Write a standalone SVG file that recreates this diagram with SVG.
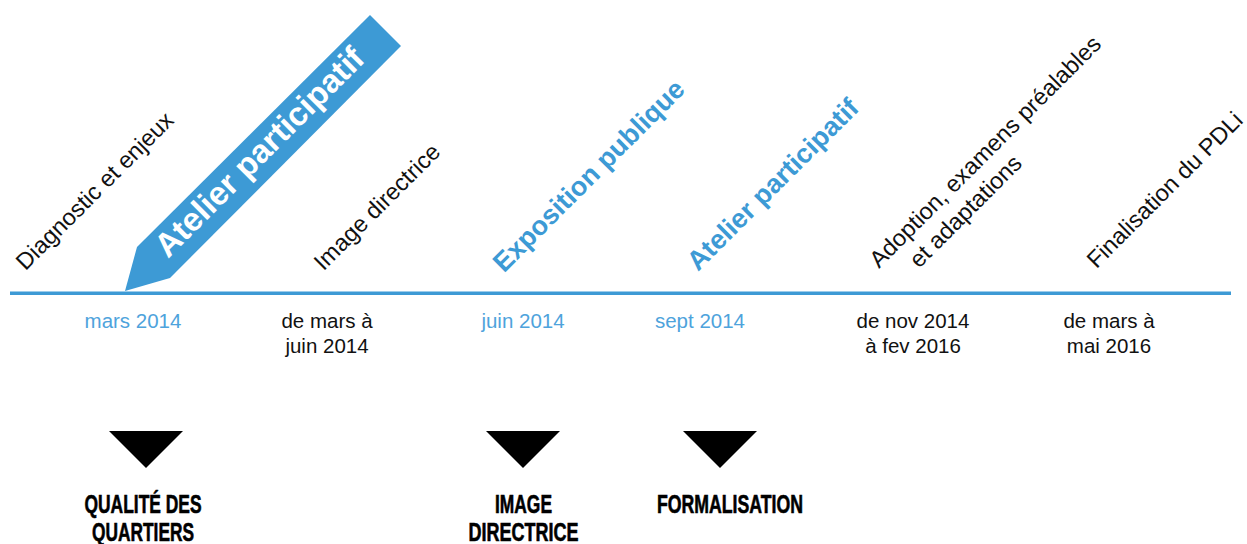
<svg xmlns="http://www.w3.org/2000/svg" width="1247" height="544" viewBox="0 0 1247 544">
<style>
.rot{font-family:"Liberation Sans",Arial,sans-serif;font-size:23.5px;fill:#111}
.rotb{font-family:"Liberation Sans",Arial,sans-serif;font-size:27px;font-weight:bold;fill:#3d9ad5}
.date{font-family:"Liberation Sans",Arial,sans-serif;font-size:20.5px;fill:#111;text-anchor:middle}
.dateb{fill:#4ea3dc}
.lab{font-family:"Liberation Sans",Arial,sans-serif;font-size:25px;font-weight:bold;fill:#000;stroke:#000;stroke-width:0.6;text-anchor:middle}
.tri{fill:#000}
</style>
<rect width="1247" height="544" fill="#fff"/>
<g id="connectors">
<rect id="timeline" x="10" y="291.5" width="1221" height="3.5" fill="#3d9ad5"/>
</g>
<g id="atelier1">
<polygon points="125,291 137,247 370,15 401,46 170,278" fill="#3d9ad5"/>
<text transform="translate(168,259) rotate(-45)" font-family="Liberation Sans,Arial,sans-serif" font-size="33" font-weight="bold" fill="#fff">Atelier participatif</text>
</g>
<g id="diagnostic">
<text class="rot" transform="translate(25.5,271.3) rotate(-45)">Diagnostic et enjeux</text>
</g>
<g id="image-directrice">
<text class="rot" transform="translate(323.5,271.5) rotate(-45)">Image directrice</text>
</g>
<g id="exposition">
<text class="rotb" transform="translate(504,273.4) rotate(-45)">Exposition publique</text>
</g>
<g id="atelier2">
<text class="rotb" transform="translate(698,272) rotate(-45)">Atelier participatif</text>
</g>
<g id="adoption">
<text class="rot" transform="translate(879,269) rotate(-45)">Adoption, examens préalables</text>
<text class="rot" transform="translate(919,269) rotate(-45)">et adaptations</text>
</g>
<g id="finalisation">
<text class="rot" transform="translate(1096.5,269.3) rotate(-45)">Finalisation du PDLi</text>
</g>
<g id="dates">
<text class="date dateb" x="133" y="328">mars 2014</text>
<text class="date" x="327" y="328">de mars à</text>
<text class="date" x="327" y="353">juin 2014</text>
<text class="date dateb" x="523" y="328">juin 2014</text>
<text class="date dateb" x="700" y="328">sept 2014</text>
<text class="date" x="913" y="328">de nov 2014</text>
<text class="date" x="913" y="353">à fev 2016</text>
<text class="date" x="1109" y="328">de mars à</text>
<text class="date" x="1109" y="353">mai 2016</text>
</g>
<g id="result-qualite">
<polygon class="tri" points="109,431 183,431 146,468"/>
<text class="lab" x="143" y="513" textLength="117" lengthAdjust="spacingAndGlyphs">QUALITÉ DES</text>
<text class="lab" x="143" y="541" textLength="102" lengthAdjust="spacingAndGlyphs">QUARTIERS</text>
</g>
<g id="result-image">
<polygon class="tri" points="486,431 560,431 523,468"/>
<text class="lab" x="523.5" y="513" textLength="57" lengthAdjust="spacingAndGlyphs">IMAGE</text>
<text class="lab" x="523.5" y="541" textLength="110" lengthAdjust="spacingAndGlyphs">DIRECTRICE</text>
</g>
<g id="result-formalisation">
<polygon class="tri" points="683,431 757,431 720,468"/>
<text class="lab" x="730" y="513" textLength="146" lengthAdjust="spacingAndGlyphs">FORMALISATION</text>
</g>
</svg>
